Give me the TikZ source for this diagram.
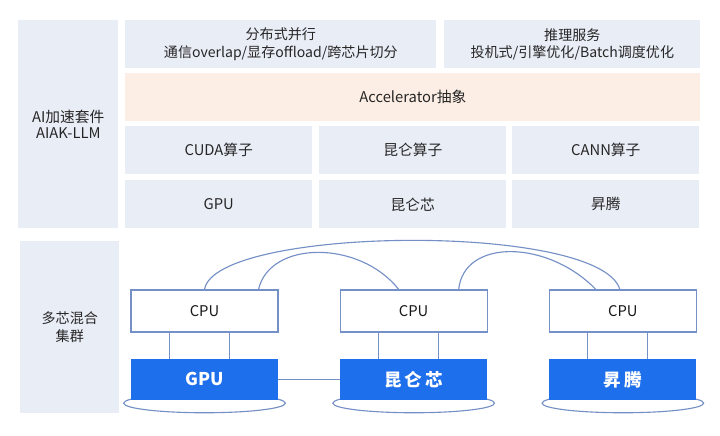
\documentclass[tikz,border=0pt]{standalone}
\usepackage{fontspec}
\setmainfont{Noto Sans CJK SC}
\usepackage{xcolor}
\usetikzlibrary{positioning, calc, backgrounds}

\definecolor{panelbg}{HTML}{E9EDF6}
\definecolor{accbg}{HTML}{FCEEE4}
\definecolor{chipbl}{HTML}{1E6FEB}
\definecolor{linkbl}{HTML}{7590C6}

\begin{document}
\begin{tikzpicture}[x=0.025cm, y=-0.025cm]

% ---- Styles -----------------------------------------------------------------
\tikzset{
  panel/.style={fill=panelbg, inner sep=0pt, align=center, text=black!85,
                anchor=north west, minimum height=\RH},
  accel/.style={fill=accbg, inner sep=0pt, text=black!85,
                anchor=north west, minimum height=\RH},
  cpubox/.style={draw=linkbl, fill=white, line width=0.8pt, inner sep=0pt,
                 minimum width=\BW, minimum height=\BH, text=black!90,
                 font=\FM},
  chipbox/.style={fill=chipbl, text=white, inner sep=0pt,
                  minimum width=\BW, minimum height=\CH,
                  font=\fontsize{12.5}{14}\selectfont\bfseries},
  link/.style={draw=linkbl, line width=0.8pt},
}

\def\FS{\fontsize{10}{12.5}\selectfont}   % two-line panel text
\def\FM{\fontsize{10.5}{12}\selectfont}   % one-line panel text
\def\RH{1.2cm}    % stack row height
\def\OW{4.675cm}  % stack column width
\def\BW{3.675cm}  % cluster box width
\def\BH{1.05cm}   % cpu box height
\def\CH{1.025cm}  % chip box height

\useasboundingbox (0,0) rectangle (720,435);

% ---- Software stack ---------------------------------------------------------
\node[panel, minimum width=2.5cm, minimum height=5.2cm,
      font=\fontsize{10.5}{11.5}\selectfont]
  (aiak) at (18,20) {AI加速套件\\AIAK-LLM};

\node[panel, minimum width=7.775cm, font=\FS]
  (dist) at (125,20) {分布式并行\\通信overlap/显存offload/跨芯片切分};
\node[panel, minimum width=6.4cm, font=\FS]
  (infer) at (444,20) {推理服务\\投机式/引擎优化/Batch调度优化};

\node[accel, minimum width=14.375cm, font=\FM] (abstr) at (125,73) {Accelerator抽象};

\node[panel, minimum width=\OW, font=\FM] (op-gpu) at (125,126) {CUDA算子};
\node[panel, minimum width=\OW, font=\FM] (op-kun) at (319,126) {昆仑算子};
\node[panel, minimum width=\OW, font=\FM] (op-asc) at (512,126) {CANN算子};

\node[panel, minimum width=\OW, font=\FM] (hw-gpu) at (125,180) {GPU};
\node[panel, minimum width=\OW, font=\FM] (hw-kun) at (319,180) {昆仑芯};
\node[panel, minimum width=\OW, font=\FM] (hw-asc) at (512,180) {昇腾};

% ---- Hybrid cluster ---------------------------------------------------------
\node[panel, minimum width=2.475cm, minimum height=4.3cm, font=\FS]
  (cluster) at (20,241) {多芯混合\\集群};

\node[cpubox] (cpu-gpu) at (204.5,311) {CPU};
\node[cpubox, right=1.525cm of cpu-gpu] (cpu-kun) {CPU};
\node[cpubox, right=1.525cm of cpu-kun] (cpu-asc) {CPU};

\node[chipbox, below=0.65cm of cpu-gpu] (chip-gpu) {GPU};
\node[chipbox, below=0.65cm of cpu-kun] (chip-kun) {昆\hspace{2pt}仑\hspace{2pt}芯};
\node[chipbox, below=0.65cm of cpu-asc] (chip-asc) {昇\hspace{2pt}腾};

% cpu <-> chip
\foreach \n in {gpu, kun, asc} {
  \draw[link] ($(cpu-\n.south)+(-35,0)$) -- ($(chip-\n.north)+(-35,0)$);
  \draw[link] ($(cpu-\n.south)+(25,0)$) -- ($(chip-\n.north)+(25,0)$);
}

\draw[link] (chip-gpu) -- (chip-kun);

% cpu <-> cpu links
\draw[link] (cpu-gpu.north) .. controls (215,226) and (600,222) .. ($(cpu-asc.north)+(-3,0)$);
\draw[link] ($(cpu-gpu.north)+(54,0)$) .. controls (270,240) and (360,240) .. ($(cpu-kun.north)+(-15,0)$);
\draw[link] ($(cpu-kun.north)+(45,0)$) .. controls (464,238) and (548,240) .. ($(cpu-asc.north)+(-27,0)$);

% ---- Rings under the chips --------------------------------------------------
\begin{scope}[on background layer]
  \fill[white] (0,0) rectangle (720,435);
  \foreach \n in {gpu, kun, asc}
    \draw[link] ($(chip-\n.south)+(0,3)$) ellipse [x radius=2.02cm, y radius=0.24cm];
\end{scope}

\end{tikzpicture}
\end{document}
